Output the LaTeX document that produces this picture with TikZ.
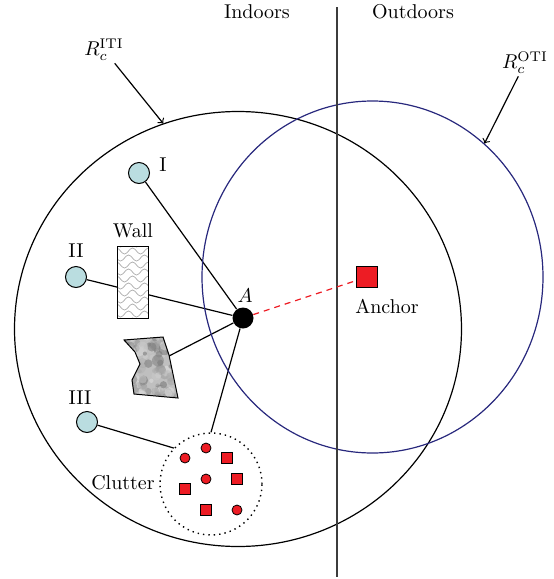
\documentclass[tikz,border=0pt]{standalone}
\usetikzlibrary{shapes.geometric,backgrounds}

\definecolor{otiblue}{RGB}{40,40,125}
\definecolor{anchorred}{RGB}{237,28,36}
\definecolor{refcyan}{RGB}{186,221,224}
\definecolor{divgray}{RGB}{60,60,60}

\tikzset{
  region/.style={ellipse, draw, line width=0.6pt, inner sep=0pt},
  refnode/.style={circle, draw, fill=refcyan, minimum size=10.5pt, inner sep=0pt, line width=0.5pt},
  mobile/.style={circle, fill=black, minimum size=10.5pt, inner sep=0pt},
  anchorbox/.style={rectangle, draw, fill=anchorred, minimum size=10.5pt, inner sep=0pt, line width=0.5pt},
  clutdot/.style={circle, draw, fill=anchorred, minimum size=5pt, inner sep=0pt, line width=0.4pt},
  clutbox/.style={rectangle, draw, fill=anchorred, minimum size=5.5pt, inner sep=0pt, line width=0.4pt},
  link/.style={line width=0.6pt},
  lbl/.style={inner sep=1pt},
  wallbox/.style={rectangle, draw, fill=white, minimum width=15.5pt, minimum height=36pt,
    inner sep=0pt, line width=0.5pt,
    path picture={
      \foreach \j in {0,...,11} {
        \pgfmathsetmacro\off{mod(\j,2)*4}
        \pgfmathsetmacro\yy{-38+\j*7}
        \draw[gray!65, line width=0.35pt]
          (-24+\off,\yy) sin ++(4,-3) cos ++(4,3) sin ++(4,3) cos ++(4,-3)
          sin ++(4,-3) cos ++(4,3) sin ++(4,3) cos ++(4,-3)
          sin ++(4,-3) cos ++(4,3) sin ++(4,3) cos ++(4,-3);
      }
    }},
}

\begin{document}
\begin{tikzpicture}[x=0.5pt,y=-0.5pt]
  \useasboundingbox (0,0) rectangle (553,579);

  % --------------------------------------------------------- %
  % ------------- coverage regions and divider
  % --------------------------------------------------------- %
  \node[region, minimum width=223.5pt, minimum height=217.5pt] (iti) at (238,329) {};
  \node[region, draw=otiblue, minimum width=170.5pt, minimum height=176pt] (oti) at (372.5,277) {};
  \coordinate (divtop) at (337,7);
  \coordinate (divbot) at (337,577);
  \draw[divgray, line width=0.7pt] (divtop) -- (divbot);
  \node (indoor) at (257,12) {Indoors};
  \node (outdoor) at (413,12) {Outdoors};

  % --- range labels
  \node[lbl] (ritilbl) at (104,50) {$R_c^{\mathrm{ITI}}$};
  \draw[->, link] (ritilbl) -- (iti.110.6);
  \node[lbl] (rotilbl) at (525,63) {$R_c^{\mathrm{OTI}}$};
  \draw[->, link] (rotilbl) -- (oti.50);

  % --------------------------------------------------------- %
  % ------------- reference nodes, obstacles, target
  % --------------------------------------------------------- %
  \node[refnode] (ni) at (139,173) {};
  \node[lbl] (nilbl) at (163,165) {I};
  \node[refnode] (nii) at (76,277) {};
  \node[lbl] (niilbl) at (76,251) {II};
  \node[refnode] (niii) at (87,422) {};
  \node[lbl] (niiilbl) at (80,398) {III};

  % --- wall
  \node[wallbox] (wall) at (132.5,282) {};
  \node[lbl] (walllbl) at (133,231) {Wall};

  % --- stone block
  \pgfmathsetseed{11}
  \path[draw, fill=gray!50, line width=0.5pt,
    path picture={
      \foreach \k in {1,...,140} {
        \pgfmathsetmacro\px{rnd*60}
        \pgfmathsetmacro\py{rnd*70}
        \pgfmathsetmacro\sh{10+rnd*50}
        \pgfmathsetmacro\rr{1+rnd*2}
        \fill[black!\sh, opacity=0.5, shift={(path picture bounding box.north west)}]
          (\px,\py) circle (\rr pt);
      }
    }]
    (124,340) -- (163,337) -- (169,355) -- (178,398) -- (134,394)
    -- (132,380) -- (140,364) -- (135,352) -- cycle;
  \coordinate (stoneR) at (169,356);

  % --- target and anchor
  \node[mobile] (a) at (243,318) {};
  \node[lbl] (alabel) at (245,296) {$A$};
  \node[anchorbox] (anchor) at (367,277) {};
  \node[lbl] (anchorlbl) at (387,306) {Anchor};

  % --- clutter
  \node[circle, draw, dotted, line width=0.7pt, minimum size=51pt, inner sep=0pt] (clutter) at (211,484) {};
  \node[lbl] (clutterlbl) at (123,483) {Clutter};
  \node[clutdot] (c1) at (185,458) {};
  \node[clutdot] (c2) at (206,448) {};
  \node[clutbox] (c3) at (227,458) {};
  \node[clutdot] (c4) at (206,479) {};
  \node[clutbox] (c5) at (237,479) {};
  \node[clutbox] (c6) at (185,489) {};
  \node[clutbox] (c7) at (206,510) {};
  \node[clutdot] (c8) at (237,510) {};

  % --------------------------------------------------------- %
  % ------------- links
  % --------------------------------------------------------- %
  \begin{pgfonlayer}{background}
    \draw[link] (ni) -- (a);
    \draw[link] (nii) -- (a);
    \draw[link] (stoneR) -- (a);
    \draw[link] (a) -- (clutter.north);
    \draw[link] (niii) -- (clutter.136);
  \end{pgfonlayer}
  \draw[anchorred, line width=0.6pt, dash pattern=on 3pt off 2.5pt] (a) -- (anchor);

\end{tikzpicture}
\end{document}
